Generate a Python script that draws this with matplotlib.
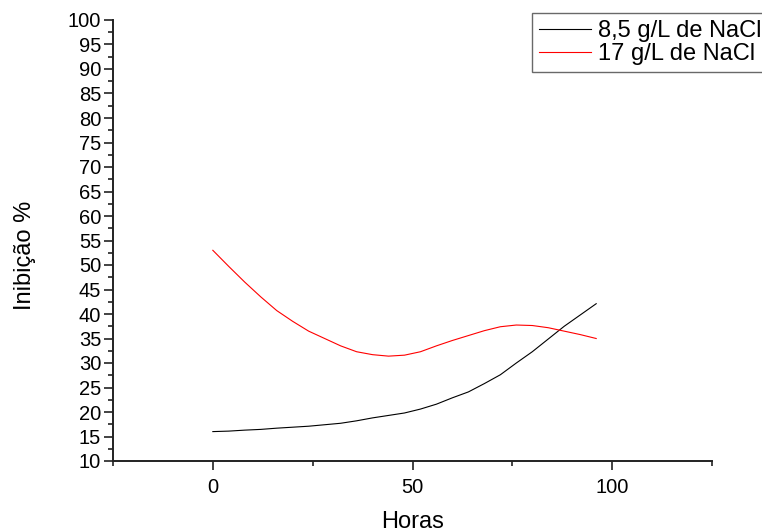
import matplotlib
matplotlib.use("Agg")
import matplotlib.pyplot as plt
from matplotlib.ticker import MultipleLocator

plt.rcParams['font.family'] = ['Liberation Sans', 'DejaVu Sans']

hours = [0, 4, 8, 12, 16, 20, 24, 28, 32, 36, 40, 44, 48, 52, 56, 60, 64, 68, 72, 76, 80, 84, 88, 92, 96]
inib_85 = [16.0, 16.1, 16.3, 16.45, 16.7, 16.9, 17.1, 17.4, 17.7, 18.2, 18.8, 19.3, 19.8,
           20.6, 21.6, 22.9, 24.1, 25.8, 27.6, 30.0, 32.3, 34.9, 37.5, 39.8, 42.1]
inib_17 = [53.0, 49.7, 46.5, 43.5, 40.7, 38.5, 36.5, 35.0, 33.5, 32.3, 31.7, 31.4, 31.6,
           32.3, 33.5, 34.6, 35.6, 36.6, 37.4, 37.75, 37.65, 37.2, 36.5, 35.8, 35.0]

labels = ["8,5 g/L de NaCl", "17 g/L de NaCl"]

fig = plt.figure(figsize=(7.62, 5.28), dpi=100)
ax = fig.add_axes([113/762, 1 - 461/528, (712 - 113)/762, (461 - 20)/528])

l1, = ax.plot(hours, inib_85, color='black', lw=0.8, label=labels[0])
l2, = ax.plot(hours, inib_17, color='red', lw=0.8, label=labels[1])

ax.set_xlim(-25, 125)
ax.set_ylim(10, 100)
ax.xaxis.set_major_locator(MultipleLocator(50))
ax.xaxis.set_minor_locator(MultipleLocator(25))
ax.yaxis.set_major_locator(MultipleLocator(5))
ax.yaxis.set_minor_locator(MultipleLocator(2.5))

for s in ['top', 'right']:
    ax.spines[s].set_visible(False)
for s in ['left', 'bottom']:
    ax.spines[s].set_linewidth(1.4)
    ax.spines[s].set_color('#222222')

ax.tick_params(which='major', direction='out', length=6.5, width=1.2, labelsize=14.5,
               colors='#222222', labelcolor='black')
ax.tick_params(which='minor', direction='out', length=3.6, width=1.2, colors='#222222')
ax.tick_params(axis='x', which='major', pad=6)
ax.tick_params(axis='y', which='major', pad=2)

ax.set_xlabel("Horas", fontsize=17)
ax.set_ylabel("Inibição %", fontsize=17)
ax.xaxis.set_label_coords(0.5, (461 - 511) / 441)
ax.yaxis.set_label_coords((36 - 113) / 599, (461 - 255) / 441)

leg = ax.legend(handles=[l1, l2], loc='upper left',
                bbox_to_anchor=(532/762, 1 - 13/528), bbox_transform=fig.transFigure,
                fancybox=False, frameon=True, edgecolor='#444444', fontsize=17,
                handlelength=2.2, handletextpad=0.3, borderpad=0.3, labelspacing=0.05,
                borderaxespad=0)
leg.get_frame().set_linewidth(1.0)

fig.savefig("out.png", dpi=100)
